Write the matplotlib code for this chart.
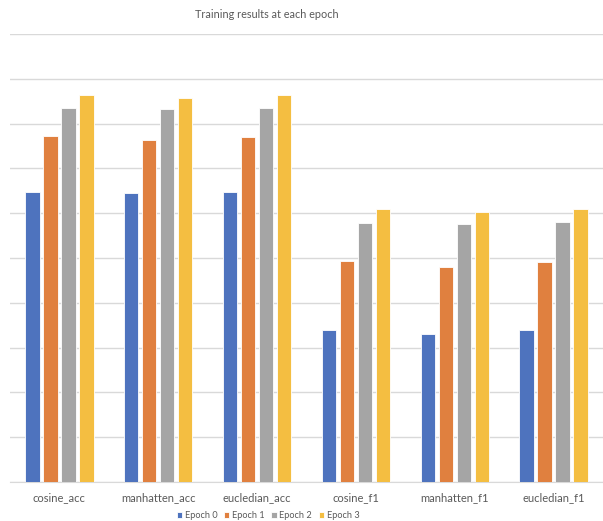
import matplotlib
matplotlib.use("Agg")
from matplotlib import pyplot as plt
import numpy as np

categories = ["cosine_acc", "manhatten_acc", "eucledian_acc",
              "cosine_f1", "manhatten_f1", "eucledian_f1"]
series = ["Epoch 0", "Epoch 1", "Epoch 2", "Epoch 3"]
epoch0 = [0.648, 0.646, 0.648, 0.339, 0.330, 0.339]
epoch1 = [0.772, 0.763, 0.770, 0.493, 0.481, 0.491]
epoch2 = [0.834, 0.832, 0.835, 0.578, 0.576, 0.580]
epoch3 = [0.864, 0.857, 0.864, 0.609, 0.603, 0.609]
colors = ["#4E73BE", "#E0803F", "#A5A5A5", "#F4BE41"]

plt.rcParams['font.family'] = ['Lato', 'DejaVu Sans']

W, H = 603, 521
fig = plt.figure(figsize=(W/100, H/100), dpi=100)
ax = fig.add_axes([10/W, (H-482)/H, 593/W, (482-34)/H])

x = np.arange(len(categories))
step = 0.182
for i, (vals, c) in enumerate(zip([epoch0, epoch1, epoch2, epoch3], colors)):
    ax.bar(x + (i-1.5)*step, vals, width=0.145, color=c, label=series[i],
           zorder=3, edgecolor="white", linewidth=0.6)

ax.set_xlim(-0.5, 5.5)
ax.set_ylim(0, 1.0)
ax.set_yticks(np.arange(0, 1.01, 0.1))
ax.yaxis.grid(True, color="#D9D9D9", linewidth=1.0, zorder=0)
ax.tick_params(axis='y', left=False, labelleft=False)
ax.tick_params(axis='x', bottom=False, labelsize=8, labelcolor="#595959", pad=4)
ax.set_xticks(x)
ax.set_xticklabels(categories)
for s in ["top", "right", "left"]:
    ax.spines[s].set_visible(False)
ax.spines["bottom"].set_color("#D9D9D9")

fig.text(267/W, 1-15/H, "Training results at each epoch", ha="center", va="center",
         fontsize=7.8, color="#595959")

leg = fig.legend(loc="center", bbox_to_anchor=(268/W, 1-516/H), ncol=4, frameon=False,
                 fontsize=6.6, handlelength=0.6, handleheight=0.6, handletextpad=0.3,
                 columnspacing=0.7)
for t in leg.get_texts():
    t.set_color("#595959")

fig.savefig("out.png", dpi=100)
